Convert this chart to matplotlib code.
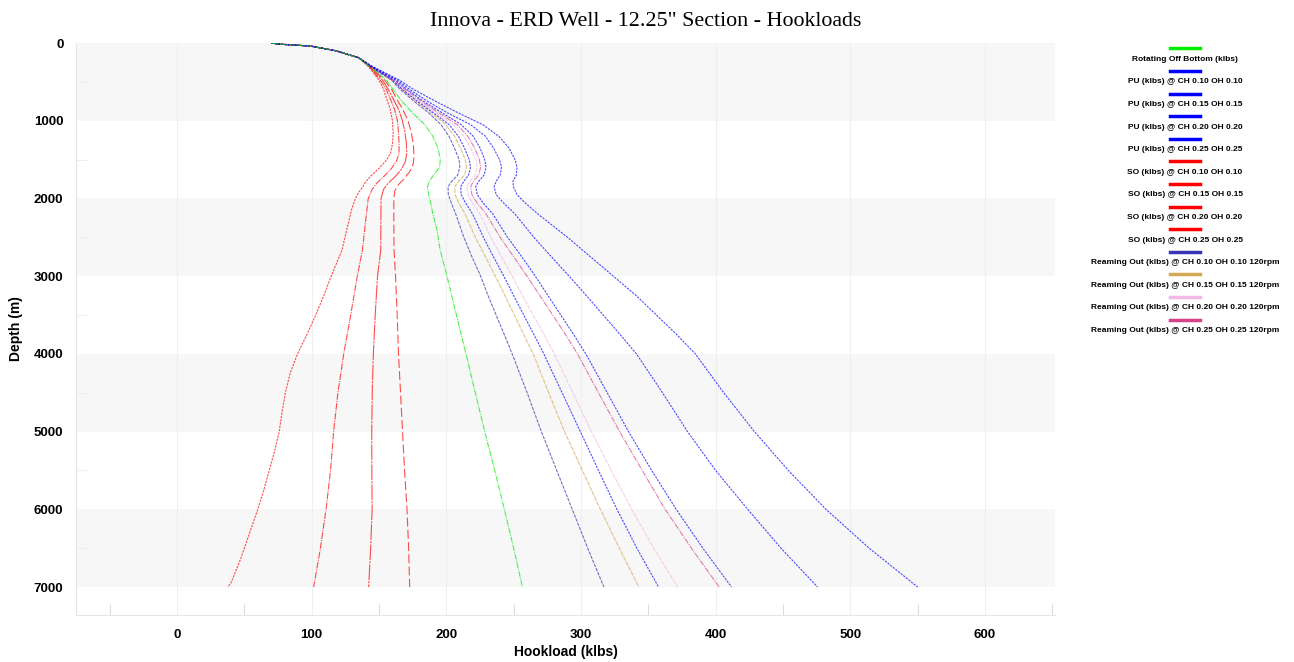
import matplotlib
matplotlib.use("Agg")
import matplotlib.pyplot as plt
from matplotlib.lines import Line2D

# ---------------- data ----------------
top_depth = [0, 15, 39, 100, 190]
top_load = [70, 76, 99, 118, 135]

rob_depth = [300, 476, 600, 750, 900, 1050, 1200, 1350, 1500, 1600, 1700, 1780, 1850, 1950, 2060, 2200, 2400, 2664, 3000, 3500, 4000, 4500, 5000, 5500, 6000, 6500, 7000]
rob_load = [143, 155.5, 160.5, 167, 175, 184, 190, 193.8, 195.5, 195, 190.5, 187.2, 186, 186.8, 188.4, 190, 193, 195.4, 200.5, 207.5, 214.6, 221.5, 228.5, 236, 243.1, 250, 256.5]

blue_depth = [300, 476, 600, 750, 900, 1050, 1200, 1350, 1500, 1600, 1700, 1780, 1850, 1950, 2050, 2200, 2500, 2750, 3000, 3250, 3500, 3750, 4000, 4500, 5000, 5500, 6000, 6500, 7000]
ro_010 = [143, 159, 166, 176, 187, 196, 202, 206, 209.5, 210, 208.5, 204, 201.3, 201.5, 203.5, 207, 213, 219, 225.5, 231, 237, 243, 248.9, 260, 270.6, 282, 293.5, 305, 317]
ro_015 = [143.2, 159.5, 167, 177.5, 189, 199.5, 206, 210.5, 214, 215, 213.5, 209, 206.2, 206.5, 209, 214, 221.5, 229, 236.4, 243.5, 250.5, 257.5, 264.5, 276, 287.8, 301, 314.4, 328.5, 343]
pu_010 = [143.4, 160, 167.5, 178.5, 190.5, 202, 209, 213.5, 217, 218, 216.5, 213, 210.7, 211, 214, 219.5, 227.5, 235, 242.7, 250, 257.5, 265, 272.4, 286, 299.5, 313, 326.7, 341.5, 357.6]
ro_020 = [143.6, 160.5, 168.5, 180, 192.5, 205, 213, 218, 222, 223, 221.5, 217.5, 215.2, 216, 219, 225, 233, 241, 248.9, 256.5, 264.5, 272.5, 280.2, 294, 307.7, 322.5, 337.6, 354, 371.7]
ro_025 = [143.8, 161, 169.5, 181.5, 194.5, 208, 216, 221, 224.5, 225.5, 224, 220, 218.1, 219, 222.5, 229.5, 240, 250, 259.9, 269.5, 279, 288.5, 297.4, 313, 328.7, 345.5, 362.5, 382, 402.6]
pu_015 = [144, 162, 171, 183, 197, 211, 220, 225, 228.5, 229.5, 228, 224, 221.8, 223, 227, 234.5, 245.5, 256, 266.1, 275.5, 285, 294.5, 303.6, 319.5, 335.3, 352.5, 370.7, 390.5, 411.8]
pu_020 = [144.5, 163.5, 173, 186, 201, 218, 229, 235, 239.5, 241, 240, 237, 235.5, 237, 242, 251, 265, 278, 291.2, 304, 316.5, 329, 341.2, 360.5, 379.1, 400, 423.8, 448.5, 475.7]
pu_025 = [145, 165, 176, 192, 209, 227, 239, 246.5, 251, 252.5, 252, 249.5, 249.8, 252.5, 258, 268, 290, 307, 324, 341, 356, 371, 384.9, 406, 428.8, 454, 481.9, 514, 550]

so10_depth = [300, 476, 600, 734, 850, 1000, 1150, 1300, 1450, 1550, 1650, 1750, 1830, 1900, 2000, 2300, 2664, 3000, 3500, 4000, 4500, 5000, 5500, 6000, 6500, 7000]
so_010 = [143.5, 154, 159.5, 163.6, 167.5, 171.6, 174, 175.5, 176, 175.5, 173, 168.5, 164, 161.8, 161, 161, 161.2, 162.3, 163.5, 164.5, 166, 167.5, 169, 170.8, 172, 172.8]

so15_depth = [300, 476, 600, 734, 850, 1000, 1150, 1300, 1420, 1530, 1630, 1720, 1800, 1880, 2000, 2300, 2664, 3000, 3500, 4000, 4500, 5000, 5500, 6000, 6500, 7000]
so_015 = [143, 152.5, 157, 161, 164.5, 167.4, 169.3, 170.4, 170.6, 169.5, 166.5, 162, 157, 153.5, 151.5, 151.4, 151.3, 148.9, 147.2, 145.8, 145, 144.6, 144.7, 144.9, 143.8, 142.3]

so20_depth = [300, 476, 600, 734, 850, 1000, 1150, 1300, 1420, 1520, 1620, 1720, 1800, 1880, 2000, 2300, 2664, 3000, 3500, 4000, 4500, 5000, 5500, 6000, 6500, 7000]
so_020 = [142.5, 151, 155.5, 158.7, 161.5, 163.7, 164.5, 164.9, 164.9, 163, 159, 153.5, 148.5, 145, 142, 140, 137.7, 133.9, 129, 123.8, 119.5, 116.3, 114, 110.7, 106.5, 101.5]

so25_depth = [300, 476, 600, 734, 850, 1000, 1150, 1300, 1420, 1520, 1620, 1720, 1800, 1850, 1920, 2000, 2150, 2300, 2664, 3000, 3250, 3500, 3750, 4000, 4250, 4500, 4750, 5000, 5250, 5500, 5750, 6000, 6400, 6650, 6950, 7000]
so_025 = [142, 150, 153.5, 156, 158.3, 160, 160.5, 160, 158.5, 155, 149.5, 143.5, 139.5, 138, 135, 132.5, 129.5, 127.5, 122.5, 114.5, 109, 103, 96.5, 89.5, 84, 80.5, 78, 75.9, 72.5, 68.5, 64.5, 60, 52, 47, 40, 37.6]

labels = [
    "Rotating Off Bottom (klbs)",
    "PU (klbs) @ CH 0.10 OH 0.10",
    "PU (klbs) @ CH 0.15 OH 0.15",
    "PU (klbs) @ CH 0.20 OH 0.20",
    "PU (klbs) @ CH 0.25 OH 0.25",
    "SO (klbs) @ CH 0.10 OH 0.10",
    "SO (klbs) @ CH 0.15 OH 0.15",
    "SO (klbs) @ CH 0.20 OH 0.20",
    "SO (klbs) @ CH 0.25 OH 0.25",
    "Reaming Out (klbs) @ CH 0.10 OH 0.10 120rpm",
    "Reaming Out (klbs) @ CH 0.15 OH 0.15 120rpm",
    "Reaming Out (klbs) @ CH 0.20 OH 0.20 120rpm",
    "Reaming Out (klbs) @ CH 0.25 OH 0.25 120rpm",
]
colors = ["#00ee00", "#0000ff", "#0000ff", "#0000ff", "#0000ff",
          "#ff0000", "#ff0000", "#ff0000", "#ff0000",
          "#3535b5", "#d4a955", "#f2b8e8", "#d8428d"]

x_ticks = [0, 100, 200, 300, 400, 500, 600]
y_ticks = [0, 1000, 2000, 3000, 4000, 5000, 6000, 7000]

# ---------------- figure ----------------
W, H = 1294, 662
fig = plt.figure(figsize=(W / 100, H / 100), dpi=100)
L, R, T, B = 76, 1055, 43, 615
ax = fig.add_axes([L / W, 1 - B / H, (R - L) / W, (B - T) / H])

XMIN, XMAX, YMAX = -75, 652, 7360
ax.set_xlim(XMIN, XMAX)
ax.set_ylim(YMAX, 0)

# alternate bands
for y0 in range(0, 8000, 2000):
    ax.axhspan(y0, y0 + 1000, color="#f7f7f7", zorder=0, lw=0)
for xv in x_ticks:
    ax.axvline(xv, color="#efefef", lw=0.8, zorder=0.5)

series = [
    (blue_depth, ro_010, 9, (0, (3, 1))),
    (blue_depth, ro_015, 10, (0, (4, 1))),
    (blue_depth, ro_020, 11, (0, (4, 1))),
    (blue_depth, ro_025, 12, (0, (5, 1, 1, 1))),
    (so25_depth, so_025, 8, (0, (2, 1))),
    (so20_depth, so_020, 7, (0, (6, 1, 1, 1))),
    (so15_depth, so_015, 6, (0, (14, 1, 2, 1))),
    (so10_depth, so_010, 5, (0, (8, 3))),
    (blue_depth, pu_010, 1, (0, (2, 1))),
    (blue_depth, pu_015, 2, (0, (2, 1))),
    (blue_depth, pu_020, 3, (0, (2, 1))),
    (blue_depth, pu_025, 4, (0, (2, 1))),
    (rob_depth, rob_load, 0, (0, (5, 1, 1, 1))),
]
for d, v, ci, ls in series:
    ax.plot(top_load + list(v), top_depth + list(d), color=colors[ci], lw=0.8,
            ls=ls, alpha=0.7, zorder=2)

ax.set_xticks(x_ticks)
ax.set_yticks(y_ticks)
ax.set_xticks([-50, 50, 150, 250, 350, 450, 550, 650], minor=True)
ax.set_yticks([500, 1500, 2500, 3500, 4500, 5500, 6500], minor=True)
ax.tick_params(axis="both", which="major", length=0, labelsize=9.5)
ax.tick_params(axis="x", which="major", pad=10)
ax.tick_params(axis="y", which="major", pad=9)
ax.tick_params(axis="x", which="minor", direction="in", length=8, width=0.8, color="#dcdcdc")
ax.tick_params(axis="y", which="minor", direction="in", length=8, width=0.8, color="#eeeeee")
for lab in ax.get_xticklabels() + ax.get_yticklabels():
    lab.set_fontweight("bold")
    lab.set_fontfamily("Liberation Sans")

for s in ["top", "right"]:
    ax.spines[s].set_visible(False)
for s in ["left", "bottom"]:
    ax.spines[s].set_color("#e6e6e6")
    ax.spines[s].set_linewidth(0.8)

ax.set_xlabel("Hookload (klbs)", fontsize=10, fontweight="bold", family="Liberation Sans", labelpad=3)
ax.set_ylabel("Depth (m)", fontsize=10, fontweight="bold", family="Liberation Sans", labelpad=8)

fig.text(646 / W, 1 - 22 / H, "Innova - ERD Well - 12.25\" Section - Hookloads",
         ha="center", va="center", fontsize=15.8, family="Liberation Serif")

# legend
lx0, lx1, cx = 1170, 1200, 1185
for i, (lab, c) in enumerate(zip(labels, colors)):
    yl = 48.3 + i * 22.6
    yt = 59.3 + i * 22.6
    fig.add_artist(Line2D([lx0 / W, lx1 / W], [1 - yl / H, 1 - yl / H], color=c, lw=2.5,
                          transform=fig.transFigure))
    fig.text(cx / W, 1 - yt / H, lab, ha="center", va="center", fontsize=6.0,
             fontweight="bold", family="Liberation Sans")

fig.savefig("out.png", dpi=100)
